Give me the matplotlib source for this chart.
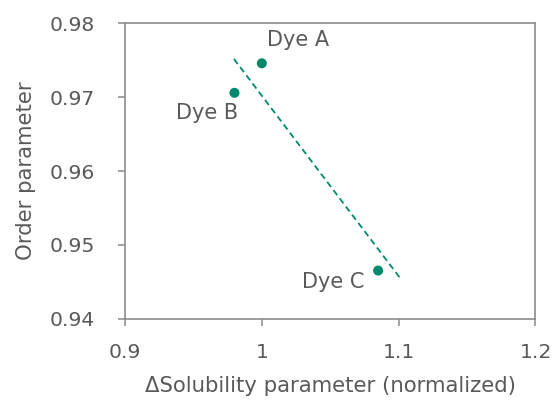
import matplotlib
matplotlib.use("Agg")
import matplotlib.pyplot as plt

# data
dye_names = ["Dye A", "Dye B", "Dye C"]
solubility = [1.000, 0.980, 1.085]
order_param = [0.9746, 0.9706, 0.9465]
# dashed trend line, end points
trend_x = [0.9796, 1.1012]
trend_y = [0.9752, 0.94545]
x_ticks = [0.9, 1.0, 1.1, 1.2]
x_ticklabels = ["0.9", "1", "1.1", "1.2"]
y_ticks = [0.94, 0.95, 0.96, 0.97, 0.98]

green = "#00896b"
txt = "#595959"
axcol = "#8c8c8c"

plt.rcParams["font.family"] = "DejaVu Sans"
fig = plt.figure(figsize=(5.56, 4.01), dpi=100)
ax = fig.add_axes([0.2248, 0.2057, 0.7383, 0.7357])

ax.plot(trend_x, trend_y, color=green, lw=1.3, dashes=(3.5, 2.2))
ax.scatter(solubility, order_param, s=52, color=green, zorder=3, edgecolors="none")

# label offsets in pixels
offsets = [(36, 23), (-27, -20), (-45, -11)]
for name, x, y, off in zip(dye_names, solubility, order_param, offsets):
  ax.annotate(name, (x, y), xytext=off, textcoords="offset pixels",
              ha="center", va="center", fontsize=15, color=txt)

ax.set_xlim(0.9, 1.2)
ax.set_ylim(0.94, 0.98)
ax.set_xticks(x_ticks)
ax.set_xticklabels(x_ticklabels)
ax.set_yticks(y_ticks)
ax.set_yticklabels([f"{v:.2f}" for v in y_ticks])
for s in ax.spines.values():
  s.set_color(axcol)
  s.set_linewidth(1.2)
ax.tick_params(colors=axcol, labelcolor=txt, labelsize=14.7, width=1.1, length=5)
ax.tick_params(axis="y", pad=16.5)
ax.tick_params(axis="x", pad=12.5)
ax.set_xlabel("\u0394Solubility parameter (normalized)", fontsize=15.3, color=txt, labelpad=10)
ax.set_ylabel("Order parameter", fontsize=15.3, color=txt, labelpad=10)

fig.savefig("out.png", dpi=100)
